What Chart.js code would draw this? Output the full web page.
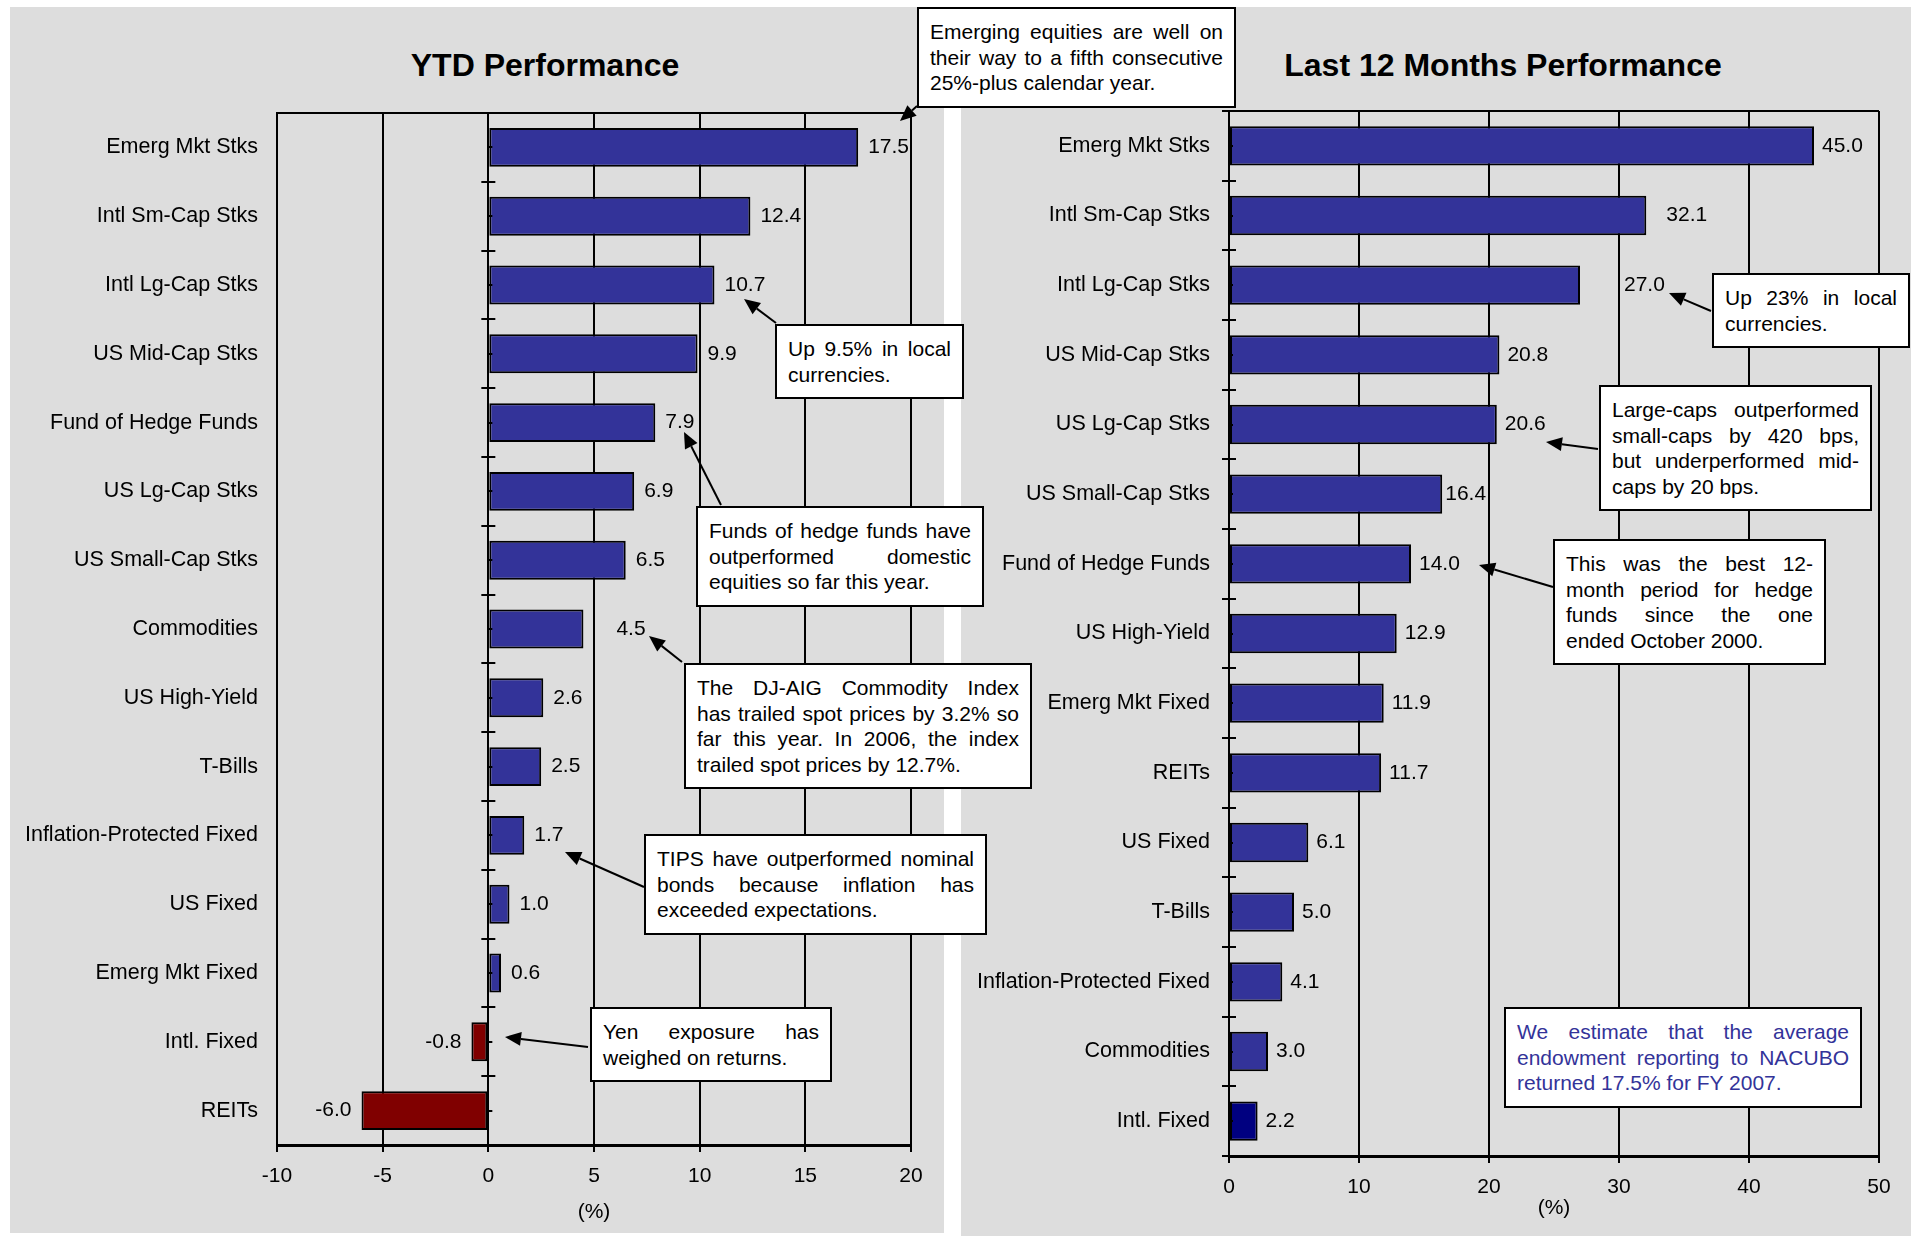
<!DOCTYPE html>
<html>
<head>
<meta charset="utf-8">
<title>YTD and Last 12 Months Performance</title>
<script src="https://cdn.jsdelivr.net/npm/chart.js@4.4.1/dist/chart.umd.min.js"></script>
<style>
    body { margin: 0; background: #fff; font-family: "Liberation Sans", Arial, sans-serif; }
    #page { position: relative; width: 1911px; height: 1236px; overflow: hidden; }
    .panel { position: absolute; background: #dddddd; }
    canvas { position: absolute; }
    .title { position: absolute; font-weight: bold; font-size: 32px; line-height: 40px; text-align: center; color: #000; }
    .note { position: absolute; box-sizing: border-box; background: #fff; border: 2px solid #000; padding: 10px 11px; font-size: 21px; line-height: 25.6px; color: #000; }
    .note div { white-space: nowrap; }
    .note .full { text-align: justify; text-align-last: justify; }
    #arrows { position: absolute; left: 0; top: 0; }
</style>
</head>
<body>
<div id="page">
    <div class="panel" style="left:10px; top:7px; width:934px; height:1226px;"></div>
    <div class="panel" style="left:961px; top:7px; width:950px; height:1229px;"></div>
    <div class="title" style="left:345px; top:45px; width:400px;">YTD Performance</div>
    <div class="title" style="left:1253px; top:45px; width:500px;">Last 12 Months Performance</div>
    <canvas id="ytdChart" width="934" height="1226" style="left:10px; top:7px;"></canvas>
    <canvas id="l12Chart" width="950" height="1229" style="left:961px; top:7px;"></canvas>
    <svg id="arrows" width="1911" height="1236"></svg>
</div>
<script>
// YTD panel
const ytdCategories = ["Emerg Mkt Stks", "Intl Sm-Cap Stks", "Intl Lg-Cap Stks", "US Mid-Cap Stks",
    "Fund of Hedge Funds", "US Lg-Cap Stks", "US Small-Cap Stks", "Commodities", "US High-Yield",
    "T-Bills", "Inflation-Protected Fixed", "US Fixed", "Emerg Mkt Fixed", "Intl. Fixed", "REITs"];
const ytdValues = [17.5, 12.4, 10.7, 9.9, 7.9, 6.9, 6.5, 4.5, 2.6, 2.5, 1.7, 1.0, 0.6, -0.8, -6.0];
const ytdTicks = [-10, -5, 0, 5, 10, 15, 20];

// Last 12 months panel
const l12Categories = ["Emerg Mkt Stks", "Intl Sm-Cap Stks", "Intl Lg-Cap Stks", "US Mid-Cap Stks",
    "US Lg-Cap Stks", "US Small-Cap Stks", "Fund of Hedge Funds", "US High-Yield", "Emerg Mkt Fixed",
    "REITs", "US Fixed", "T-Bills", "Inflation-Protected Fixed", "Commodities", "Intl. Fixed"];
const l12Values = [45.0, 32.1, 27.0, 20.8, 20.6, 16.4, 14.0, 12.9, 11.9, 11.7, 6.1, 5.0, 4.1, 3.0, 2.2];
const l12Ticks = [0, 10, 20, 30, 40, 50];
const l12Highlight = "Intl. Fixed";

const BLUE = "#333399", RED = "#800000", NAVY = "#000080";

// callout boxes and their arrows (page pixels)
const notes = [
    { left: 917, top: 7, width: 319, lines: ["Emerging equities are well on", "their way to a fifth consecutive", "25%-plus calendar year."] },
    { left: 775, top: 324, width: 189, lines: ["Up 9.5% in local", "currencies."] },
    { left: 696, top: 506, width: 288, lines: ["Funds of hedge funds have", "outperformed domestic", "equities so far this year."] },
    { left: 684, top: 663, width: 348, lines: ["The DJ-AIG Commodity Index", "has trailed spot prices by 3.2% so", "far this year.  In 2006, the index", "trailed spot prices by 12.7%."] },
    { left: 644, top: 834, width: 343, lines: ["TIPS have outperformed nominal", "bonds because inflation has", "exceeded expectations."] },
    { left: 590, top: 1007, width: 242, lines: ["Yen exposure has", "weighed on returns."] },
    { left: 1712, top: 273, width: 198, lines: ["Up 23% in local", "currencies."] },
    { left: 1599, top: 385, width: 273, lines: ["Large-caps outperformed", "small-caps by 420 bps,", "but underperformed mid-", "caps by 20 bps."] },
    { left: 1553, top: 539, width: 273, lines: ["This was the best 12-", "month period for hedge", "funds since the one", "ended October 2000."] },
    { left: 1504, top: 1007, width: 358, color: "#333399", lines: ["We estimate that the average", "endowment reporting to NACUBO", "returned 17.5% for FY 2007."] }
];
const arrows = [
    [917, 106, 900, 121], [776, 323, 744, 299], [721, 505, 684, 432], [682, 662, 649, 636],
    [644, 887, 565, 852], [588, 1047, 505, 1037], [1711, 311, 1669, 293], [1598, 449, 1546, 442],
    [1553, 587, 1479, 565]
];

Chart.defaults.font.family = '"Liberation Sans", Arial, sans-serif';
Chart.defaults.font.size = 21;
Chart.defaults.color = "#000";

// value labels at the end of each bar
const barLabels = {
    id: "barLabels",
    afterDatasetsDraw(chart, args, opts) {
        const ctx = chart.ctx;
        const values = chart.data.datasets[0].data;
        ctx.save();
        ctx.font = '21px "Liberation Sans", Arial, sans-serif';
        ctx.fillStyle = "#000";
        ctx.textBaseline = "middle";
        chart.getDatasetMeta(0).data.forEach((bar, i) => {
            const v = values[i];
            const shift = (opts.nudge && opts.nudge[i]) || 0;
            if (v < 0) {
                ctx.textAlign = "right";
                ctx.fillText(v.toFixed(1), bar.x - opts.gap - shift, bar.y);
            } else {
                ctx.textAlign = "left";
                ctx.fillText(v.toFixed(1), bar.x + opts.gap + shift, bar.y);
            }
        });
        ctx.restore();
    }
};

// top frame line and the category tick marks crossing the zero axis
const axisMarks = {
    id: "axisMarks",
    afterDatasetsDraw(chart, args, opts) {
        const { ctx, chartArea } = chart;
        const yScale = chart.scales.y;
        const x0 = chart.scales.x.getPixelForValue(opts.crossAt);
        const n = chart.data.labels.length;
        const step = (yScale.bottom - yScale.top) / n;
        ctx.save();
        ctx.strokeStyle = "#000";
        ctx.lineWidth = 2;
        ctx.beginPath();
        ctx.moveTo(chartArea.left, chartArea.top);
        ctx.lineTo(chartArea.right, chartArea.top);
        for (let i = 0; i <= n; i++) {
            const yy = Math.round(yScale.top + i * step);
            ctx.moveTo(x0 - 7, yy);
            ctx.lineTo(x0 + 7, yy);
        }
        for (let i = 0; i < n; i++) {
            const yy = Math.round(yScale.getPixelForValue(i));
            ctx.moveTo(x0, yy);
            ctx.lineTo(x0 + 4, yy);
        }
        ctx.stroke();
        ctx.restore();
    }
};

function buildChart(id, categories, values, ticks, colors, opts) {
    return new Chart(document.getElementById(id), {
        type: "bar",
        data: {
            labels: categories,
            datasets: [{
                data: values,
                backgroundColor: colors,
                borderColor: "#000",
                borderWidth: 2,
                borderSkipped: false,
                categoryPercentage: 1,
                barPercentage: 0.565
            }]
        },
        plugins: [barLabels, axisMarks],
        options: {
            indexAxis: "y",
            responsive: false,
            animation: false,
            devicePixelRatio: 1,
            layout: { padding: opts.padding },
            plugins: {
                legend: { display: false },
                tooltip: { enabled: false },
                barLabels: { gap: opts.gap, nudge: opts.nudge },
                axisMarks: { crossAt: 0 }
            },
            scales: {
                x: {
                    type: "linear",
                    min: ticks[0],
                    max: ticks[ticks.length - 1],
                    ticks: { stepSize: ticks[1] - ticks[0], padding: 12, color: "#000" },
                    grid: { color: "#000", lineWidth: 2, tickLength: 7, tickColor: "#000", tickWidth: 2 },
                    border: { display: true, color: "#000", width: 3 },
                    title: { display: true, text: "(%)", color: "#000", padding: { top: 0, bottom: 0 } },
                    afterFit: s => { s.height = opts.xHeight; }
                },
                y: {
                    type: "category",
                    grid: { display: false, drawTicks: false },
                    border: { display: true, color: "#000", width: 2 },
                    ticks: { padding: 19, color: "#000", autoSkip: false, font: { size: 21.5 } },
                    afterFit: s => { s.width = opts.yWidth; }
                }
            }
        }
    });
}

buildChart("ytdChart", ytdCategories, ytdValues, ytdTicks,
    ytdValues.map(v => v < 0 ? RED : BLUE),
    { padding: { left: 0, top: 106, right: 33, bottom: 8 }, yWidth: 267, xHeight: 80, gap: 10, nudge: { 7: 23 } });

buildChart("l12Chart", l12Categories, l12Values, l12Ticks,
    l12Categories.map(c => c === l12Highlight ? NAVY : BLUE),
    { padding: { left: 0, top: 104, right: 32, bottom: 15 }, yWidth: 268, xHeight: 65, gap: 8, nudge: { 1: 12, 2: 36, 5: -5 } });

// arrows
const svg = document.getElementById("arrows");
arrows.forEach(([x1, y1, x2, y2]) => {
    const len = Math.hypot(x2 - x1, y2 - y1);
    const ux = (x2 - x1) / len, uy = (y2 - y1) / len;
    const hl = 16, hw = 7;
    const bx = x2 - ux * hl, by = y2 - uy * hl;
    const line = document.createElementNS("http://www.w3.org/2000/svg", "line");
    line.setAttribute("x1", x1); line.setAttribute("y1", y1);
    line.setAttribute("x2", bx); line.setAttribute("y2", by);
    line.setAttribute("stroke", "#000"); line.setAttribute("stroke-width", 2);
    svg.appendChild(line);
    const head = document.createElementNS("http://www.w3.org/2000/svg", "polygon");
    head.setAttribute("points", `${x2},${y2} ${bx - uy * hw},${by + ux * hw} ${bx + uy * hw},${by - ux * hw}`);
    head.setAttribute("fill", "#000");
    svg.appendChild(head);
});

// callout boxes
const page = document.getElementById("page");
notes.forEach(note => {
    const box = document.createElement("div");
    box.className = "note";
    box.style.left = note.left + "px";
    box.style.top = note.top + "px";
    box.style.width = note.width + "px";
    if (note.color) box.style.color = note.color;
    note.lines.forEach((text, i) => {
        const line = document.createElement("div");
        if (i < note.lines.length - 1) line.className = "full";
        line.textContent = text;
        box.appendChild(line);
    });
    page.appendChild(box);
});
</script>
</body>
</html>
